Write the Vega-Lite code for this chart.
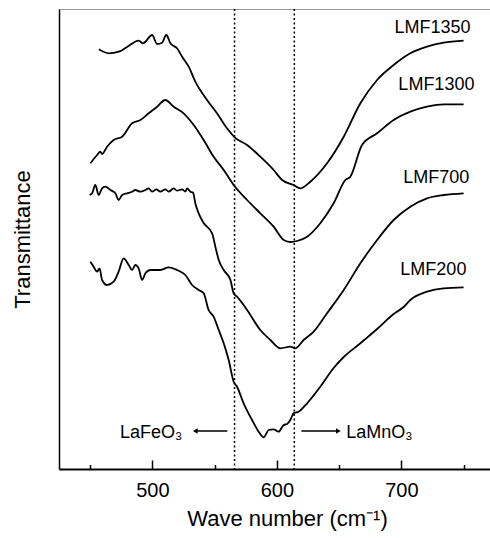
{
  "$schema": "https://vega.github.io/schema/vega-lite/v6.json",
  "autosize": "none",
  "padding": {"left": 59, "top": 9, "right": 0, "bottom": 69},
  "width": 431,
  "height": 460,
  "background": "white",
  "config": {
    "view": {"stroke": null},
    "font": "Liberation Sans",
    "axis": {"labelFont": "Liberation Sans", "titleFont": "Liberation Sans", "titleFontWeight": "normal", "labelColor": "black", "titleColor": "black", "domainColor": "black"}
  },
  "datasets": {
    "spectra": [
      {"s": "LMF1350", "w": 457, "t": 419.7}, {"s": "LMF1350", "w": 465, "t": 415.7}, {"s": "LMF1350", "w": 473, "t": 417.3}, {"s": "LMF1350", "w": 480, "t": 422.3}, {"s": "LMF1350", "w": 489, "t": 428.3}, {"s": "LMF1350", "w": 492.5, "t": 425.7}, {"s": "LMF1350", "w": 499.8, "t": 434}, {"s": "LMF1350", "w": 503.8, "t": 425}, {"s": "LMF1350", "w": 507.8, "t": 426.3}, {"s": "LMF1350", "w": 511.2, "t": 434}, {"s": "LMF1350", "w": 514.5, "t": 425.7}, {"s": "LMF1350", "w": 519.8, "t": 420.7}, {"s": "LMF1350", "w": 523.9, "t": 412.3}, {"s": "LMF1350", "w": 529.2, "t": 402.3}, {"s": "LMF1350", "w": 534.5, "t": 387.3}, {"s": "LMF1350", "w": 543.9, "t": 369}, {"s": "LMF1350", "w": 551.9, "t": 355.7}, {"s": "LMF1350", "w": 560, "t": 340.7}, {"s": "LMF1350", "w": 566.1, "t": 331.7}, {"s": "LMF1350", "w": 576.1, "t": 324}, {"s": "LMF1350", "w": 586.7, "t": 312.3}, {"s": "LMF1350", "w": 597.4, "t": 299}, {"s": "LMF1350", "w": 604.2, "t": 289}, {"s": "LMF1350", "w": 613.5, "t": 284}, {"s": "LMF1350", "w": 618.9, "t": 280.7}, {"s": "LMF1350", "w": 626.9, "t": 287.3}, {"s": "LMF1350", "w": 640.3, "t": 305.7}, {"s": "LMF1350", "w": 653.7, "t": 332.3}, {"s": "LMF1350", "w": 667.1, "t": 365.7}, {"s": "LMF1350", "w": 680.5, "t": 389}, {"s": "LMF1350", "w": 693.8, "t": 404}, {"s": "LMF1350", "w": 707.2, "t": 415.7}, {"s": "LMF1350", "w": 720.6, "t": 422.3}, {"s": "LMF1350", "w": 734, "t": 426.3}, {"s": "LMF1350", "w": 750, "t": 428.3},

      {"s": "LMF1300", "w": 450.2, "t": 305.7}, {"s": "LMF1300", "w": 455.6, "t": 314}, {"s": "LMF1300", "w": 458.2, "t": 317.3}, {"s": "LMF1300", "w": 459.6, "t": 315}, {"s": "LMF1300", "w": 463.6, "t": 322.3}, {"s": "LMF1300", "w": 468.9, "t": 329}, {"s": "LMF1300", "w": 475.7, "t": 332.3}, {"s": "LMF1300", "w": 483.7, "t": 345.7}, {"s": "LMF1300", "w": 490.4, "t": 349}, {"s": "LMF1300", "w": 497, "t": 355.7}, {"s": "LMF1300", "w": 503.8, "t": 362.3}, {"s": "LMF1300", "w": 510.4, "t": 369}, {"s": "LMF1300", "w": 517.1, "t": 362.3}, {"s": "LMF1300", "w": 525.1, "t": 355.7}, {"s": "LMF1300", "w": 533.2, "t": 344}, {"s": "LMF1300", "w": 541.2, "t": 329}, {"s": "LMF1300", "w": 549.2, "t": 312.3}, {"s": "LMF1300", "w": 557.3, "t": 299}, {"s": "LMF1300", "w": 565.3, "t": 284}, {"s": "LMF1300", "w": 576.1, "t": 269}, {"s": "LMF1300", "w": 586.7, "t": 255.7}, {"s": "LMF1300", "w": 597.4, "t": 242.3}, {"s": "LMF1300", "w": 605.5, "t": 229}, {"s": "LMF1300", "w": 610.8, "t": 227}, {"s": "LMF1300", "w": 616.2, "t": 228}, {"s": "LMF1300", "w": 624.3, "t": 232.3}, {"s": "LMF1300", "w": 634.9, "t": 245.7}, {"s": "LMF1300", "w": 645.6, "t": 265.7}, {"s": "LMF1300", "w": 655, "t": 289}, {"s": "LMF1300", "w": 659, "t": 292.3}, {"s": "LMF1300", "w": 668.4, "t": 324}, {"s": "LMF1300", "w": 680.5, "t": 335.7}, {"s": "LMF1300", "w": 693.8, "t": 349}, {"s": "LMF1300", "w": 707.2, "t": 357.3}, {"s": "LMF1300", "w": 720.6, "t": 362.3}, {"s": "LMF1300", "w": 734, "t": 364.7}, {"s": "LMF1300", "w": 750, "t": 364.7},

      {"s": "LMF700", "w": 449.6, "t": 274}, {"s": "LMF700", "w": 451.6, "t": 275.7}, {"s": "LMF700", "w": 454.2, "t": 284}, {"s": "LMF700", "w": 456.9, "t": 274}, {"s": "LMF700", "w": 459.6, "t": 280.7}, {"s": "LMF700", "w": 462.2, "t": 282.3}, {"s": "LMF700", "w": 466.3, "t": 279}, {"s": "LMF700", "w": 470.3, "t": 275.7}, {"s": "LMF700", "w": 472.9, "t": 269}, {"s": "LMF700", "w": 475.7, "t": 274}, {"s": "LMF700", "w": 479.7, "t": 275.7}, {"s": "LMF700", "w": 483.7, "t": 277.3}, {"s": "LMF700", "w": 486.3, "t": 279}, {"s": "LMF700", "w": 490.4, "t": 277.3}, {"s": "LMF700", "w": 494.4, "t": 279}, {"s": "LMF700", "w": 497, "t": 280.7}, {"s": "LMF700", "w": 499.8, "t": 277.3}, {"s": "LMF700", "w": 503.2, "t": 279.7}, {"s": "LMF700", "w": 506.4, "t": 277.3}, {"s": "LMF700", "w": 510.4, "t": 279.7}, {"s": "LMF700", "w": 513.1, "t": 277.3}, {"s": "LMF700", "w": 517.1, "t": 280.7}, {"s": "LMF700", "w": 519.8, "t": 278.3}, {"s": "LMF700", "w": 523.9, "t": 279.7}, {"s": "LMF700", "w": 526.5, "t": 277.3}, {"s": "LMF700", "w": 527.9, "t": 280.7}, {"s": "LMF700", "w": 530.5, "t": 277.3}, {"s": "LMF700", "w": 532.7, "t": 276.3}, {"s": "LMF700", "w": 534.5, "t": 265.7}, {"s": "LMF700", "w": 537.2, "t": 255.7}, {"s": "LMF700", "w": 541.2, "t": 246}, {"s": "LMF700", "w": 548, "t": 235.7}, {"s": "LMF700", "w": 550.6, "t": 222.3}, {"s": "LMF700", "w": 553.3, "t": 209}, {"s": "LMF700", "w": 557.3, "t": 199}, {"s": "LMF700", "w": 562.7, "t": 189}, {"s": "LMF700", "w": 565.3, "t": 175.7}, {"s": "LMF700", "w": 568, "t": 172.3}, {"s": "LMF700", "w": 576.1, "t": 159}, {"s": "LMF700", "w": 586.7, "t": 139}, {"s": "LMF700", "w": 594.8, "t": 129}, {"s": "LMF700", "w": 602.8, "t": 120.7}, {"s": "LMF700", "w": 610.8, "t": 122.3}, {"s": "LMF700", "w": 614.9, "t": 120.7}, {"s": "LMF700", "w": 621.5, "t": 129}, {"s": "LMF700", "w": 629.6, "t": 137.3}, {"s": "LMF700", "w": 640.3, "t": 155.7}, {"s": "LMF700", "w": 653.7, "t": 179}, {"s": "LMF700", "w": 667.1, "t": 205.7}, {"s": "LMF700", "w": 680.5, "t": 229}, {"s": "LMF700", "w": 693.8, "t": 249}, {"s": "LMF700", "w": 707.2, "t": 262.3}, {"s": "LMF700", "w": 720.6, "t": 270.7}, {"s": "LMF700", "w": 734, "t": 274}, {"s": "LMF700", "w": 750, "t": 275.7},

      {"s": "LMF200", "w": 450.2, "t": 207.3}, {"s": "LMF200", "w": 452.8, "t": 202.3}, {"s": "LMF200", "w": 455.6, "t": 197.3}, {"s": "LMF200", "w": 457.6, "t": 200.7}, {"s": "LMF200", "w": 459.6, "t": 189}, {"s": "LMF200", "w": 463.6, "t": 184}, {"s": "LMF200", "w": 468.9, "t": 187.3}, {"s": "LMF200", "w": 472.9, "t": 197.3}, {"s": "LMF200", "w": 476.9, "t": 210.7}, {"s": "LMF200", "w": 481, "t": 204}, {"s": "LMF200", "w": 483.7, "t": 199}, {"s": "LMF200", "w": 486.3, "t": 204}, {"s": "LMF200", "w": 489, "t": 200.7}, {"s": "LMF200", "w": 491.7, "t": 189}, {"s": "LMF200", "w": 494.4, "t": 195.7}, {"s": "LMF200", "w": 498.4, "t": 199}, {"s": "LMF200", "w": 506.4, "t": 199}, {"s": "LMF200", "w": 513.1, "t": 201.7}, {"s": "LMF200", "w": 519.8, "t": 199}, {"s": "LMF200", "w": 526.5, "t": 194}, {"s": "LMF200", "w": 531.9, "t": 184}, {"s": "LMF200", "w": 537.2, "t": 179}, {"s": "LMF200", "w": 541.2, "t": 175.7}, {"s": "LMF200", "w": 545.2, "t": 159}, {"s": "LMF200", "w": 549.2, "t": 152.3}, {"s": "LMF200", "w": 553.3, "t": 139}, {"s": "LMF200", "w": 557.3, "t": 125.7}, {"s": "LMF200", "w": 561.3, "t": 109}, {"s": "LMF200", "w": 565.3, "t": 87.3}, {"s": "LMF200", "w": 568, "t": 82.3}, {"s": "LMF200", "w": 573.3, "t": 65.7}, {"s": "LMF200", "w": 580.1, "t": 49}, {"s": "LMF200", "w": 585.4, "t": 37.3}, {"s": "LMF200", "w": 589.4, "t": 31.7}, {"s": "LMF200", "w": 593.4, "t": 39}, {"s": "LMF200", "w": 597.4, "t": 39.7}, {"s": "LMF200", "w": 601.4, "t": 37.3}, {"s": "LMF200", "w": 605.5, "t": 44}, {"s": "LMF200", "w": 608.2, "t": 45}, {"s": "LMF200", "w": 610.8, "t": 49}, {"s": "LMF200", "w": 613.5, "t": 55.7}, {"s": "LMF200", "w": 617.5, "t": 57.3}, {"s": "LMF200", "w": 624.3, "t": 65.7}, {"s": "LMF200", "w": 634.9, "t": 82.3}, {"s": "LMF200", "w": 645.6, "t": 101}, {"s": "LMF200", "w": 653.7, "t": 112}, {"s": "LMF200", "w": 667.1, "t": 125.7}, {"s": "LMF200", "w": 680.5, "t": 140}, {"s": "LMF200", "w": 693.8, "t": 155}, {"s": "LMF200", "w": 701.8, "t": 162}, {"s": "LMF200", "w": 707.2, "t": 169}, {"s": "LMF200", "w": 720.6, "t": 177.3}, {"s": "LMF200", "w": 734, "t": 180.7}, {"s": "LMF200", "w": 750, "t": 181.7}
    ],
    "seriesLabels": [
      {"label": "LMF1350", "w": 694.4, "t": 441},
      {"label": "LMF1300", "w": 697.6, "t": 384},
      {"label": "LMF700", "w": 701.6, "t": 291},
      {"label": "LMF200", "w": 699.2, "t": 199}
    ],
    "phases": [{"w": 566}, {"w": 614}],
    "phaseText": [
      {"label": "LaFeO₃", "w": 524.1, "t": 31.5, "side": "left"},
      {"label": "LaMnO₃", "w": 655.8, "t": 31.5, "side": "right"}
    ],
    "arrows": [
      {"w1": 560.2, "w2": 534.5, "t": 38, "dir": "left", "tip": 534.5},
      {"w1": 619.7, "w2": 649.4, "t": 38, "dir": "right", "tip": 649.4}
    ]
  },
  "resolve": {"axis": {"x": "independent"}},
  "layer": [
    {
      "data": {"name": "phases"},
      "mark": {"type": "rule", "color": "black", "strokeWidth": 1.5, "strokeDash": [2, 2.5]},
      "encoding": {
        "x": {"field": "w", "type": "quantitative", "scale": {"domain": [425, 771.2], "nice": false, "zero": false},
          "axis": {"orient": "top", "ticks": false, "labels": false, "title": null, "domainColor": "#999", "domainWidth": 1, "grid": false}}
      }
    },
    {
      "data": {"name": "spectra"},
      "mark": {"type": "line", "color": "black", "strokeWidth": 1.8, "interpolate": "monotone"},
      "encoding": {
        "x": {"field": "w", "type": "quantitative", "scale": {"domain": [425, 771.2], "nice": false, "zero": false},
          "axis": {"orient": "bottom", "values": [500, 600, 700], "grid": false,
            "tickSize": -9,
            "tickColor": "black", "tickWidth": 1.5, "domainWidth": 1.8,
            "labelFontSize": 20, "labelPadding": 20, "labelFlush": false,
            "title": "Wave number (cm⁻¹)", "titleFontSize": 22, "titlePadding": 8, "titleX": 228}},
        "y": {"field": "t", "type": "quantitative", "scale": {"domain": [0, 460], "nice": false},
          "axis": {"ticks": false, "labels": false, "grid": false, "domainWidth": 1.5,
            "title": "Transmittance", "titleFontSize": 22, "titlePadding": 25}},
        "detail": {"field": "s"}
      }
    },
    {
      "data": {"name": "seriesLabels"},
      "mark": {"type": "text", "align": "left", "baseline": "middle", "fontSize": 18, "color": "black"},
      "encoding": {
        "x": {"field": "w", "type": "quantitative", "axis": {"orient": "bottom", "values": [450, 550, 650, 750], "tickSize": -4.5, "tickColor": "black", "tickWidth": 1.5, "labels": false, "domain": false, "grid": false, "title": null, "offset": 0}},
        "y": {"field": "t", "type": "quantitative"},
        "text": {"field": "label"}
      }
    },
    {
      "data": {"name": "phaseText"},
      "transform": [{"filter": "datum.side == 'left'"}],
      "mark": {"type": "text", "align": "right", "baseline": "alphabetic", "fontSize": 18, "color": "black"},
      "encoding": {
        "x": {"field": "w", "type": "quantitative", "axis": null},
        "y": {"field": "t", "type": "quantitative"},
        "text": {"field": "label"}
      }
    },
    {
      "data": {"name": "phaseText"},
      "transform": [{"filter": "datum.side == 'right'"}],
      "mark": {"type": "text", "align": "left", "baseline": "alphabetic", "fontSize": 18, "color": "black"},
      "encoding": {
        "x": {"field": "w", "type": "quantitative", "axis": null},
        "y": {"field": "t", "type": "quantitative"},
        "text": {"field": "label"}
      }
    },
    {
      "data": {"name": "arrows"},
      "mark": {"type": "rule", "color": "black", "strokeWidth": 1.3},
      "encoding": {
        "x": {"field": "w1", "type": "quantitative", "axis": null},
        "x2": {"field": "w2"},
        "y": {"field": "t", "type": "quantitative"}
      }
    },
    {
      "data": {"name": "arrows"},
      "mark": {"type": "point", "filled": true, "color": "black", "size": 30, "opacity": 1},
      "encoding": {
        "x": {"field": "tip", "type": "quantitative", "axis": null},
        "y": {"field": "t", "type": "quantitative"},
        "shape": {"field": "dir", "type": "nominal", "scale": {"domain": ["left", "right"], "range": ["triangle-left", "triangle-right"]}, "legend": null}
      }
    }
  ]
}
